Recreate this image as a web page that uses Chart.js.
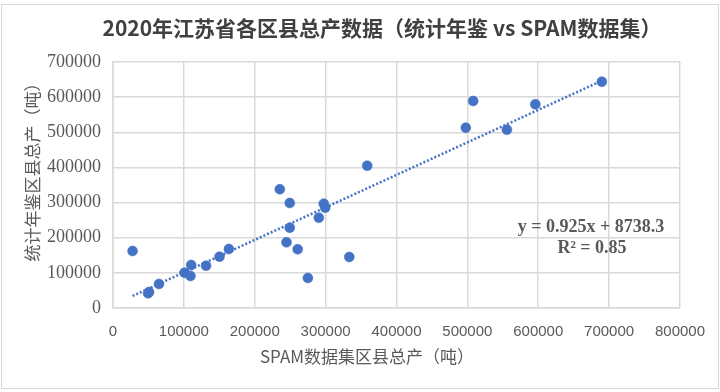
<!DOCTYPE html>
<html>
<head>
<meta charset="utf-8">
<script src="https://cdn.jsdelivr.net/npm/chart.js@4.4.1/dist/chart.umd.min.js"></script>
<style>
  html, body { margin: 0; padding: 0; background: #fff; }
  #wrap { width: 720px; height: 392px; }
</style>
</head>
<body>
<div id="wrap"><canvas id="scatterChart" width="720" height="392"></canvas></div>
<script>
/* ─── Data ────────────────────────────────────────────────── */
const TITLE   = '2020年江苏省各区县总产数据（统计年鉴 vs SPAM数据集）';
const X_TITLE = 'SPAM数据集区县总产（吨）';
const Y_TITLE = '统计年鉴区县总产（吨）';
const EQ_LINE = 'y = 0.925x + 8738.3';
const R2_LINE = 'R² = 0.85';

// SPAM dataset county totals (x) and yearbook totals (y), tonnes
const spamTotals = [
  27600, 49500, 50900, 64900, 100900, 110300, 109300, 131300, 150300, 163500,
  235400, 249400, 249400, 244800, 260600, 275000, 290400, 297400, 299400, 333400,
  358700, 689700, 508200, 497800, 555800, 595900
];
const yearbookTotals = [
  162200, 41800, 45500, 68300, 100400, 122400, 91100, 120400, 146000, 167900,
  337800, 298800, 228500, 187000, 167000, 85400, 257000, 296800, 285400, 145100,
  404900, 644000, 589000, 513000, 507400, 579600
];

// linear trendline as printed on the chart
const TREND_SLOPE = 0.925;
const TREND_INTERCEPT = 8738.3;

const X_MAX = 800000;
const Y_MAX = 700000;
const TICK_STEP = 100000;

/* ─── Colours ────────────────────────────────────────────── */
const BLUE = '#4472C4';
const GRID = '#d9d9d9';
const TEXT = '#595959';

const points = spamTotals.map((x, i) => ({ x, y: yearbookTotals[i] }));
const xLo = Math.min(...spamTotals);
const xHi = Math.max(...spamTotals);
const trend = [
  { x: xLo, y: TREND_SLOPE * xLo + TREND_INTERCEPT },
  { x: xHi, y: TREND_SLOPE * xHi + TREND_INTERCEPT }
];

/* ─── Frame + texts drawn around the plot ────────────────── */
const frameAndTexts = {
  id: 'frameAndTexts',
  beforeDraw(chart) {
    const c = chart.ctx;
    c.save();
    c.fillStyle = '#fff';
    c.fillRect(0, 0, chart.width, chart.height);
    c.strokeStyle = GRID;
    c.lineWidth = 1;
    c.strokeRect(1.5, 4.5, 717, 384);
    c.restore();
  },
  afterDraw(chart) {
    const c = chart.ctx;
    c.save();
    c.textBaseline = 'middle';
    // main title
    c.fillStyle = '#404040';
    c.font = 'bold 21px "Noto Sans CJK SC"';
    c.textAlign = 'center';
    c.fillText(TITLE, 382, 28);
    // x axis title
    c.fillStyle = TEXT;
    c.font = '17px "Noto Sans CJK SC"';
    c.fillText(X_TITLE, 367, 357);
    // y axis title (rotated)
    c.save();
    c.translate(33, 168);
    c.rotate(-Math.PI / 2);
    c.fillText(Y_TITLE, 0, 0);
    c.restore();
    // trendline equation
    c.font = 'bold 18px "Liberation Serif"';
    c.fillText(EQ_LINE, 591, 227);
    c.fillText(R2_LINE, 592, 248);
    c.restore();
  }
};

/* ─── Chart ──────────────────────────────────────────────── */
function initChart() {
  const ctx = document.getElementById('scatterChart');
  new Chart(ctx, {
    type: 'scatter',
    data: {
      datasets: [
        {
          type: 'line',
          label: 'trend',
          data: trend,
          borderColor: BLUE,
          borderWidth: 2.5,
          borderDash: [2, 2],
          pointRadius: 0,
          fill: false
        },
        {
          label: 'counties',
          data: points,
          backgroundColor: BLUE,
          borderColor: BLUE,
          borderWidth: 0.5,
          pointRadius: 5
        }
      ]
    },
    options: {
      responsive: false,
      animation: false,
      devicePixelRatio: 1,
      layout: { padding: { top: 62, right: 36, bottom: 0, left: 0 } },
      plugins: {
        legend: { display: false },
        tooltip: { enabled: false },
        title: { display: false }
      },
      scales: {
        x: {
          type: 'linear',
          min: 0,
          max: X_MAX,
          afterFit: s => { s.height = 84; },
          border: { color: GRID, width: 1.5 },
          grid: { color: GRID, lineWidth: 1.5, drawTicks: false },
          ticks: {
            stepSize: TICK_STEP,
            padding: 15,
            color: TEXT,
            font: { family: 'Liberation Sans', size: 15 },
            callback: v => String(v)
          }
        },
        y: {
          type: 'linear',
          min: 0,
          max: Y_MAX,
          afterFit: s => { s.width = 113; },
          border: { color: GRID, width: 1.5 },
          grid: { color: GRID, lineWidth: 1.5, drawTicks: false },
          ticks: {
            stepSize: TICK_STEP,
            padding: 12,
            color: TEXT,
            font: { family: 'Liberation Serif', size: 18 },
            callback: v => String(v)
          }
        }
      }
    },
    plugins: [frameAndTexts]
  });
}

Promise.all([
  document.fonts.load('bold 21px "Noto Sans CJK SC"'),
  document.fonts.load('17px "Noto Sans CJK SC"'),
  document.fonts.load('bold 18px "Liberation Serif"'),
  document.fonts.load('18px "Liberation Serif"'),
  document.fonts.load('15px "Liberation Sans"')
]).then(initChart, initChart);
</script>
</body>
</html>
